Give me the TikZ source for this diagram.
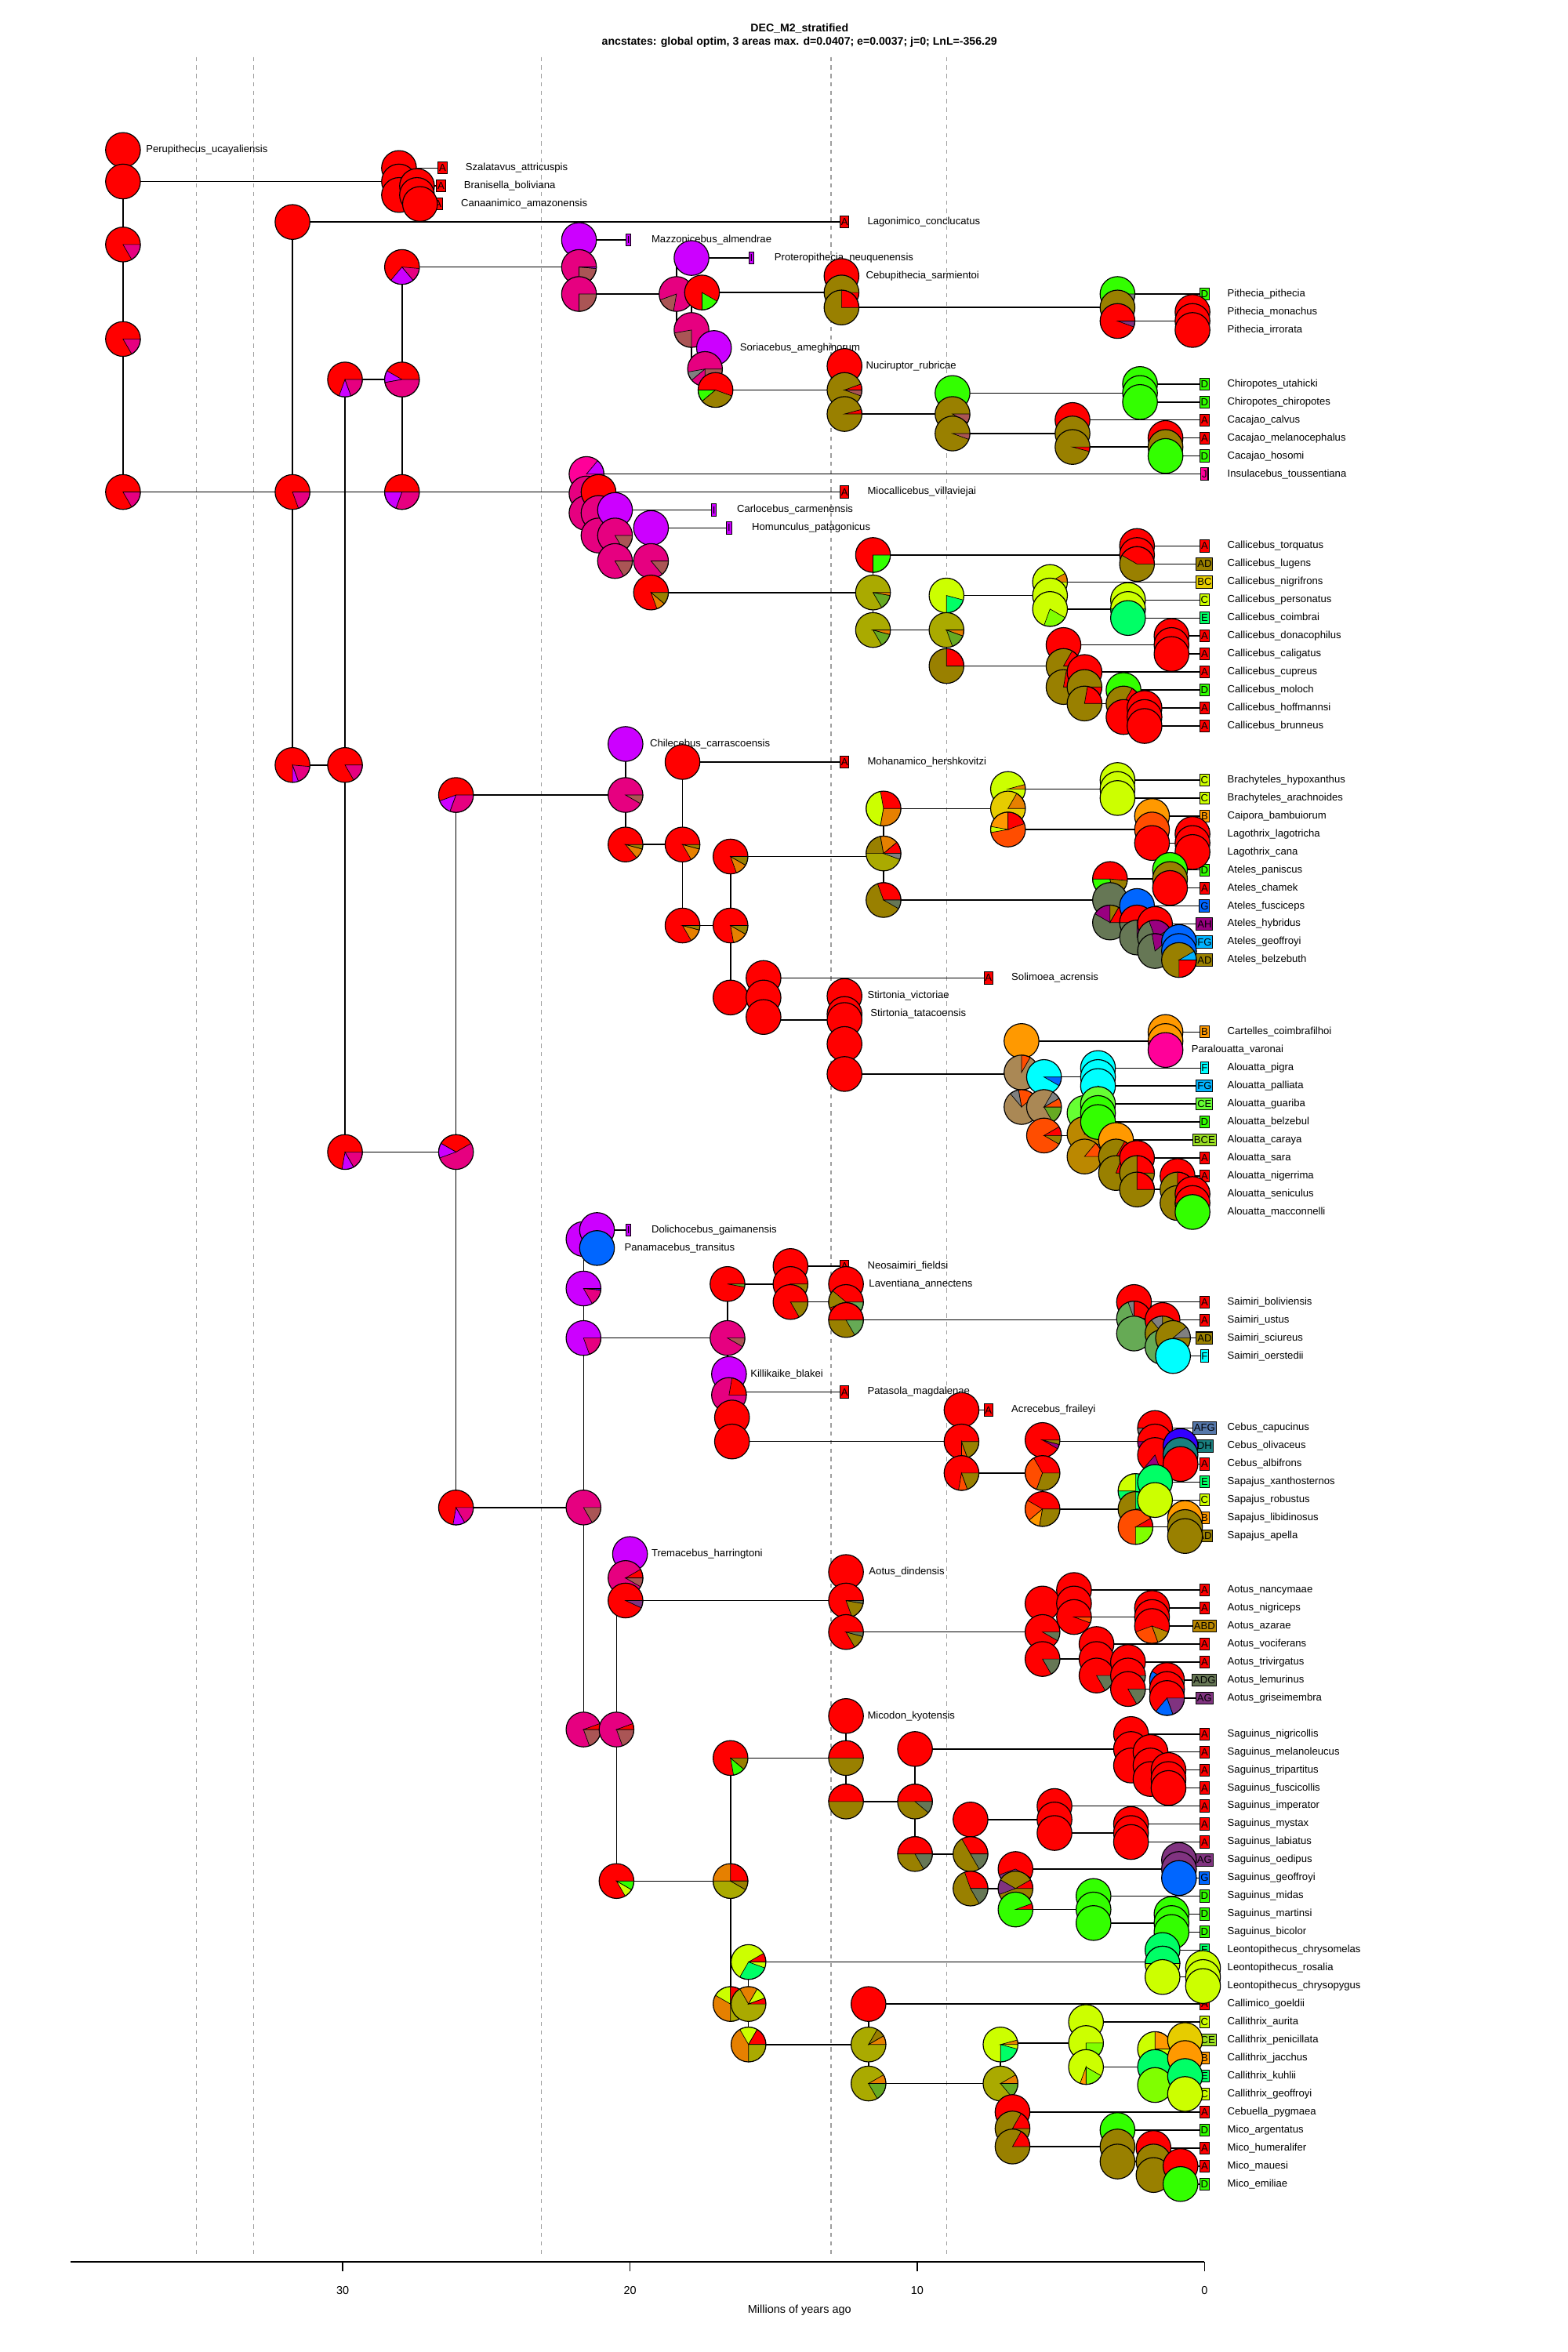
\documentclass[tikz,border=0pt]{standalone}
\usepackage{fontspec}
\setmainfont{Liberation Sans}
\usetikzlibrary{positioning}
% area colours
\definecolor{cA}{HTML}{FF0000}\definecolor{cB}{HTML}{FF9900}\definecolor{cC}{HTML}{CCFF00}
\definecolor{cD}{HTML}{33FF00}\definecolor{cE}{HTML}{00FF66}\definecolor{cF}{HTML}{00FFFF}
\definecolor{cG}{HTML}{0066FF}\definecolor{cH}{HTML}{3300FF}\definecolor{cI}{HTML}{CC00FF}
\definecolor{cJ}{HTML}{FF0099}
\definecolor{cAD}{HTML}{998000}\definecolor{cBC}{HTML}{E6CC00}\definecolor{cAB}{HTML}{FF4D00}
\definecolor{cAI}{HTML}{E60080}\definecolor{cAF}{HTML}{808080}\definecolor{cAG}{HTML}{803380}
\definecolor{cAH}{HTML}{990080}\definecolor{cFG}{HTML}{00B3FF}\definecolor{cCE}{HTML}{66FF33}
\definecolor{cBCE}{HTML}{99DD22}\definecolor{cABD}{HTML}{BB8800}\definecolor{cADG}{HTML}{667755}
\definecolor{cAFG}{HTML}{5577AA}\definecolor{cDH}{HTML}{198080}\definecolor{cAC}{HTML}{E68000}
\definecolor{cCD}{HTML}{80FF00}\definecolor{cACD}{HTML}{AAAA00}\definecolor{cADE}{HTML}{66AA22}
\definecolor{cADF}{HTML}{66AA55}\definecolor{cADI}{HTML}{AA5555}\definecolor{cABF}{HTML}{AA8855}
\definecolor{cAJ}{HTML}{FF004D}
\newcommand{\pr}{11.6}
\tikzset{
  br/.style={line width=0.45pt},
  piestyle/.style={draw=black, line width=0.35pt},
  wedge/.style={draw=black, line width=0.2pt},
  abox/.style={draw=black, line width=0.3pt, inner xsep=0.4pt, inner ysep=0pt, minimum height=0.16cm, font=\fontsize{3.9}{4}\selectfont},
  tlab/.style={anchor=west, inner sep=0pt, font=\fontsize{3.9}{4}\selectfont},
  axlab/.style={inner sep=0pt, font=\fontsize{4.3}{5}\selectfont},
  timeline/.style={gray!75, line width=0.4pt, dash pattern=on 1.6pt off 1.6pt}
}
\newcommand{\hb}[3]{\draw[br] (#2,-#1) -- (#3,-#1);}
\newcommand{\vb}[3]{\draw[br] (#1,-#2) -- (#1,-#3);}
\newcommand{\pie}[3]{\filldraw[piestyle, fill=#3] (#1,-#2) circle[radius=\pr];}
\newcommand{\piew}[4]{\fill[#3] (#1,-#2) circle[radius=\pr];
  \foreach \wc/\wa/\wb in {#4}{\filldraw[wedge, fill=\wc] (#1,-#2) -- ++(\wa:\pr) arc[start angle=\wa, end angle=\wb, radius=\pr] -- cycle;}
  \draw[piestyle] (#1,-#2) circle[radius=\pr];}
\newcounter{tipn}
\newcommand{\tip}[5]{\stepcounter{tipn}\node[abox, fill=#4] (box\thetipn) at (#1,-#2) {#3};
  \node[tlab] (lab\thetipn) at (#1+15,-#2) {#5};}
\newcommand{\flab}[3]{\stepcounter{tipn}\node[tlab] (lab\thetipn) at (#1,-#2) {#3};}

\begin{document}
\begin{tikzpicture}[x=0.02cm, y=0.02cm, line cap=butt]
  \useasboundingbox (0,0) rectangle (1045,-1568);
  \fill[white] (0,0) rectangle (1045,-1568);
  % title
  \node[font=\bfseries\fontsize{4.2}{5}\selectfont, inner sep=0pt] (title) at (533,-19) {DEC\_M2\_stratified};
  \node[font=\bfseries\fontsize{4.2}{5}\selectfont, inner sep=0pt] (subtitle) at (533,-28) {ancstates: global optim, 3 areas max. d=0.0407; e=0.0037; j=0; LnL=-356.29};
  % time slices
  \foreach \xs in {131,169,361,554,631} \draw[timeline] (\xs,-38) -- (\xs,-1505);
  % axis
  \draw[br] (47,-1508) -- (803,-1508);
  \foreach \t in {0,10,20,30} {
    \draw[br] ({803-19.15*\t},-1508) -- ({803-19.15*\t},-1514);
    \node[axlab] (tk\t) at ({803-19.15*\t},-1527) {\t};
  }
  \node[axlab] (xlabel) at (533,-1540) {Millions of years ago};

  % ---- branches: root and early splits
  \vb{82}{100}{328}
  \hb{121}{82}{266} \vb{266}{112}{130} \hb{112}{266}{295} \hb{130}{266}{278}
  \vb{278}{124}{136} \hb{124}{278}{294} \hb{136}{278}{292}
  \hb{328}{82}{195} \vb{195}{148}{510} \hb{148}{195}{563} \hb{510}{195}{230}
  \vb{230}{253}{768} \hb{253}{230}{268} \vb{268}{178}{329} \hb{328}{195}{391}
  % pitheciines
  \hb{178}{268}{386} \vb{386}{160}{196} \hb{160}{386}{419} \hb{196}{386}{451}
  \vb{451}{172}{220} \hb{172}{451}{501} \hb{220}{451}{461}
  \vb{461}{195}{246} \hb{195}{461}{561} \hb{246}{461}{472}
  \vb{472}{232}{260} \hb{232}{472}{478} \hb{260}{472}{563}
  \vb{561}{184}{205} \hb{205}{561}{745} \vb{745}{196}{214} \hb{196}{745}{803} \hb{214}{745}{795}
  \vb{795}{208}{220} \hb{208}{795}{803} \hb{220}{795}{803}
  \vb{563}{244}{276} \hb{276}{563}{635} \vb{635}{262}{289}
  \hb{262}{635}{760} \vb{760}{256}{268} \hb{256}{760}{803} \hb{268}{760}{803}
  \hb{289}{635}{715} \vb{715}{280}{298} \hb{280}{715}{803} \hb{298}{715}{777}
  \vb{777}{292}{304} \hb{292}{777}{803} \hb{304}{777}{803}
  % Homunculus group and Callicebus
  \vb{391}{316}{342} \hb{316}{391}{803} \hb{342}{391}{399}
  \vb{399}{328}{357} \hb{328}{399}{563} \hb{357}{399}{410}
  \vb{410}{340}{374} \hb{340}{410}{476} \hb{374}{410}{434}
  \vb{434}{352}{395} \hb{352}{434}{486} \hb{395}{434}{582}
  \vb{582}{370}{420} \hb{370}{582}{758} \vb{758}{364}{376} \hb{364}{758}{803} \hb{376}{758}{803}
  \hb{420}{582}{631} \vb{631}{397}{444} \hb{397}{631}{700} \vb{700}{388}{406}
  \hb{388}{700}{803} \hb{406}{700}{752} \vb{752}{400}{412} \hb{400}{752}{803} \hb{412}{752}{803}
  \hb{444}{631}{709} \vb{709}{430}{458} \hb{430}{709}{781} \vb{781}{424}{436}
  \hb{424}{781}{803} \hb{436}{781}{803}
  \hb{458}{709}{723} \vb{723}{448}{469} \hb{448}{723}{803} \hb{469}{723}{749}
  \vb{749}{460}{478} \hb{460}{749}{803} \hb{478}{749}{763}
  \vb{763}{472}{484} \hb{472}{763}{803} \hb{484}{763}{803}
  % atelids
  \hb{768}{230}{304} \vb{304}{530}{1005} \hb{530}{304}{417}
  \vb{417}{496}{563} \hb{496}{417}{420} \hb{563}{417}{455}
  \vb{455}{508}{617} \hb{508}{455}{563} \hb{617}{455}{487}
  \vb{487}{571}{665} \hb{571}{487}{589} \vb{589}{539}{600}
  \hb{539}{589}{672} \vb{672}{526}{553} \hb{526}{672}{745} \vb{745}{520}{532}
  \hb{520}{745}{803} \hb{532}{745}{803}
  \hb{553}{672}{768} \vb{768}{544}{562} \hb{544}{768}{803} \hb{562}{768}{795}
  \vb{795}{556}{568} \hb{556}{795}{803} \hb{568}{795}{803}
  \hb{600}{589}{740} \vb{740}{586}{615} \hb{586}{740}{780} \vb{780}{580}{592}
  \hb{580}{780}{803} \hb{592}{780}{803}
  \hb{615}{740}{758} \vb{758}{604}{625} \hb{604}{758}{803} \hb{625}{758}{770}
  \vb{770}{616}{634} \hb{616}{770}{803} \hb{634}{770}{786}
  \vb{786}{628}{640} \hb{628}{786}{803} \hb{640}{786}{803}
  \hb{665}{487}{509} \vb{509}{652}{680} \hb{652}{509}{659} \hb{680}{509}{563}
  \vb{563}{664}{716} \hb{716}{563}{681} \vb{681}{694}{738}
  \hb{694}{681}{777} \vb{777}{688}{700} \hb{688}{777}{803} \hb{700}{777}{780}
  \hb{738}{681}{696} \vb{696}{718}{757} \hb{718}{696}{732} \vb{732}{712}{724}
  \hb{712}{732}{803} \hb{724}{732}{803}
  \hb{757}{696}{723} \vb{723}{742}{771} \hb{742}{723}{732} \vb{732}{736}{748}
  \hb{736}{732}{803} \hb{748}{732}{803}
  \hb{771}{723}{744} \vb{744}{760}{782} \hb{760}{744}{803} \hb{782}{744}{758}
  \vb{758}{772}{793} \hb{772}{758}{803} \hb{793}{758}{785}
  \vb{785}{784}{802} \hb{784}{785}{803} \hb{802}{785}{795}
  \vb{795}{796}{808} \hb{796}{795}{803} \hb{808}{795}{803}
  % cebids
  \hb{1005}{304}{389} \vb{389}{826}{1153} \hb{826}{389}{398}
  \vb{398}{820}{832} \hb{820}{398}{419} \hb{832}{398}{402}
  \hb{892}{389}{485} \vb{485}{856}{929} \hb{856}{485}{527}
  \vb{527}{844}{868} \hb{844}{527}{563} \hb{868}{527}{564}
  \vb{564}{856}{880} \hb{880}{564}{756} \vb{756}{868}{889} \hb{868}{756}{803}
  \hb{889}{756}{775} \vb{775}{880}{898} \hb{880}{775}{803} \hb{898}{775}{782}
  \vb{782}{892}{904} \hb{892}{782}{803} \hb{904}{782}{803}
  \hb{929}{485}{487} \vb{487}{916}{961} \hb{928}{487}{563} \hb{961}{487}{641}
  \vb{641}{940}{982} \hb{940}{641}{659} \hb{982}{641}{695}
  \vb{695}{961}{1006} \hb{961}{695}{770} \vb{770}{952}{970}
  \hb{952}{770}{803} \hb{970}{770}{787} \vb{787}{964}{976} \hb{964}{787}{803} \hb{976}{787}{803}
  \hb{1006}{695}{757} \vb{757}{994}{1018} \hb{994}{757}{770} \vb{770}{988}{1000}
  \hb{988}{770}{803} \hb{1000}{770}{803}
  \hb{1018}{757}{790} \vb{790}{1012}{1024} \hb{1012}{790}{803} \hb{1024}{790}{803}
  % Aotus
  \hb{1153}{389}{411} \vb{411}{1052}{1254} \hb{1052}{411}{417}
  \vb{417}{1036}{1067} \hb{1036}{417}{420} \hb{1067}{417}{564}
  \vb{564}{1048}{1088} \hb{1088}{564}{695} \vb{695}{1069}{1106}
  \hb{1069}{695}{716} \vb{716}{1060}{1078} \hb{1060}{716}{803} \hb{1078}{716}{768}
  \vb{768}{1072}{1084} \hb{1072}{768}{803} \hb{1084}{768}{803}
  \hb{1106}{695}{731} \vb{731}{1096}{1117} \hb{1096}{731}{803} \hb{1117}{731}{752}
  \vb{752}{1108}{1126} \hb{1108}{752}{803} \hb{1126}{752}{778}
  \vb{778}{1120}{1132} \hb{1120}{778}{803} \hb{1132}{778}{803}
  % callitrichines
  \hb{1254}{411}{487} \vb{487}{1172}{1336} \hb{1172}{487}{564}
  \vb{564}{1144}{1201} \hb{1201}{564}{610} \vb{610}{1166}{1236}
  \hb{1166}{610}{754} \vb{754}{1156}{1177} \hb{1156}{754}{803} \hb{1177}{754}{767}
  \vb{767}{1168}{1186} \hb{1168}{767}{803} \hb{1186}{767}{779}
  \vb{779}{1180}{1192} \hb{1180}{779}{803} \hb{1192}{779}{803}
  \hb{1236}{610}{647} \vb{647}{1213}{1259} \hb{1213}{647}{703}
  \vb{703}{1204}{1222} \hb{1204}{703}{803} \hb{1222}{703}{754}
  \vb{754}{1216}{1228} \hb{1216}{754}{803} \hb{1228}{754}{803}
  \hb{1259}{647}{677} \vb{677}{1246}{1273} \hb{1246}{677}{786}
  \vb{786}{1240}{1252} \hb{1240}{786}{803} \hb{1252}{786}{803}
  \hb{1273}{677}{729} \vb{729}{1264}{1282} \hb{1264}{729}{803} \hb{1282}{729}{781}
  \vb{781}{1276}{1288} \hb{1276}{781}{803} \hb{1288}{781}{803}
  \hb{1336}{487}{499} \vb{499}{1308}{1363} \hb{1308}{499}{775}
  \vb{775}{1300}{1318} \hb{1300}{775}{803} \hb{1318}{775}{802}
  \hb{1363}{499}{579} \vb{579}{1336}{1389} \hb{1336}{579}{803} \hb{1389}{579}{667}
  \vb{667}{1362}{1419} \hb{1362}{667}{724} \vb{724}{1348}{1378} \hb{1348}{724}{803}
  \hb{1378}{724}{770} \vb{770}{1366}{1390} \hb{1366}{770}{790} \vb{790}{1360}{1372}
  \hb{1360}{790}{803} \hb{1372}{790}{803}
  \hb{1390}{770}{790} \vb{790}{1384}{1396} \hb{1384}{790}{803} \hb{1396}{790}{803}
  \hb{1419}{667}{675} \vb{675}{1408}{1431} \hb{1408}{675}{803} \hb{1431}{675}{745}
  \vb{745}{1420}{1441} \hb{1420}{745}{803} \hb{1441}{745}{769}
  \vb{769}{1432}{1450} \hb{1432}{769}{803} \hb{1450}{769}{787}
  \vb{787}{1444}{1456} \hb{1444}{787}{803} \hb{1456}{787}{803}

  % ---- fossil tips
  \flab{97}{100}{Perupithecus\_ucayaliensis}
  \tip{295}{112}{A}{cA}{Szalatavus\_attricuspis}
  \tip{294}{124}{A}{cA}{Branisella\_boliviana}
  \tip{292}{136}{A}{cA}{Canaanimico\_amazonensis}
  \tip{563}{148}{A}{cA}{Lagonimico\_conclucatus}
  \tip{419}{160}{I}{cI}{Mazzonicebus\_almendrae}
  \tip{501}{172}{I}{cI}{Proteropithecia\_neuquenensis}
  \flab{577}{184}{Cebupithecia\_sarmientoi}
  \flab{493}{232}{Soriacebus\_ameghinorum}
  \flab{577}{244}{Nuciruptor\_rubricae}
  \tip{563}{328}{A}{cA}{Miocallicebus\_villaviejai}
  \tip{476}{340}{I}{cI}{Carlocebus\_carmenensis}
  \tip{486}{352}{I}{cI}{Homunculus\_patagonicus}
  \flab{433}{496}{Chilecebus\_carrascoensis}
  \tip{563}{508}{A}{cA}{Mohanamico\_hershkovitzi}
  \tip{659}{652}{A}{cA}{Solimoea\_acrensis}
  \flab{578}{664}{Stirtonia\_victoriae}
  \flab{580}{676}{Stirtonia\_tatacoensis}
  \flab{794}{700}{Paralouatta\_varonai}
  \tip{419}{820}{I}{cI}{Dolichocebus\_gaimanensis}
  \flab{416}{832}{Panamacebus\_transitus}
  \tip{563}{844}{A}{cA}{Neosaimiri\_fieldsi}
  \flab{579}{856}{Laventiana\_annectens}
  \flab{500}{916}{Killikaike\_blakei}
  \tip{563}{928}{A}{cA}{Patasola\_magdalenae}
  \tip{659}{940}{A}{cA}{Acrecebus\_fraileyi}
  \flab{434}{1036}{Tremacebus\_harringtoni}
  \flab{579}{1048}{Aotus\_dindensis}
  \flab{578}{1144}{Micodon\_kyotensis}
  % ---- living tips
  \tip{803}{196}{D}{cD}{Pithecia\_pithecia}
  \tip{803}{208}{A}{cA}{Pithecia\_monachus}
  \tip{803}{220}{A}{cA}{Pithecia\_irrorata}
  \tip{803}{256}{D}{cD}{Chiropotes\_utahicki}
  \tip{803}{268}{D}{cD}{Chiropotes\_chiropotes}
  \tip{803}{280}{A}{cA}{Cacajao\_calvus}
  \tip{803}{292}{A}{cA}{Cacajao\_melanocephalus}
  \tip{803}{304}{D}{cD}{Cacajao\_hosomi}
  \tip{803}{316}{J}{cJ}{Insulacebus\_toussentiana}
  \tip{803}{364}{A}{cA}{Callicebus\_torquatus}
  \tip{803}{376}{AD}{cAD}{Callicebus\_lugens}
  \tip{803}{388}{BC}{cBC}{Callicebus\_nigrifrons}
  \tip{803}{400}{C}{cC}{Callicebus\_personatus}
  \tip{803}{412}{E}{cE}{Callicebus\_coimbrai}
  \tip{803}{424}{A}{cA}{Callicebus\_donacophilus}
  \tip{803}{436}{A}{cA}{Callicebus\_caligatus}
  \tip{803}{448}{A}{cA}{Callicebus\_cupreus}
  \tip{803}{460}{D}{cD}{Callicebus\_moloch}
  \tip{803}{472}{A}{cA}{Callicebus\_hoffmannsi}
  \tip{803}{484}{A}{cA}{Callicebus\_brunneus}
  \tip{803}{520}{C}{cC}{Brachyteles\_hypoxanthus}
  \tip{803}{532}{C}{cC}{Brachyteles\_arachnoides}
  \tip{803}{544}{B}{cB}{Caipora\_bambuiorum}
  \tip{803}{556}{A}{cA}{Lagothrix\_lagotricha}
  \tip{803}{568}{A}{cA}{Lagothrix\_cana}
  \tip{803}{580}{D}{cD}{Ateles\_paniscus}
  \tip{803}{592}{A}{cA}{Ateles\_chamek}
  \tip{803}{604}{G}{cG}{Ateles\_fusciceps}
  \tip{803}{616}{AH}{cAH}{Ateles\_hybridus}
  \tip{803}{628}{FG}{cFG}{Ateles\_geoffroyi}
  \tip{803}{640}{AD}{cAD}{Ateles\_belzebuth}
  \tip{803}{688}{B}{cB}{Cartelles\_coimbrafilhoi}
  \tip{803}{712}{F}{cF}{Alouatta\_pigra}
  \tip{803}{724}{FG}{cFG}{Alouatta\_palliata}
  \tip{803}{736}{CE}{cCE}{Alouatta\_guariba}
  \tip{803}{748}{D}{cD}{Alouatta\_belzebul}
  \tip{803}{760}{BCE}{cBCE}{Alouatta\_caraya}
  \tip{803}{772}{A}{cA}{Alouatta\_sara}
  \tip{803}{784}{A}{cA}{Alouatta\_nigerrima}
  \tip{803}{796}{A}{cA}{Alouatta\_seniculus}
  \tip{803}{808}{D}{cD}{Alouatta\_macconnelli}
  \tip{803}{868}{A}{cA}{Saimiri\_boliviensis}
  \tip{803}{880}{A}{cA}{Saimiri\_ustus}
  \tip{803}{892}{AD}{cAD}{Saimiri\_sciureus}
  \tip{803}{904}{F}{cF}{Saimiri\_oerstedii}
  \tip{803}{952}{AFG}{cAFG}{Cebus\_capucinus}
  \tip{803}{964}{DH}{cDH}{Cebus\_olivaceus}
  \tip{803}{976}{A}{cA}{Cebus\_albifrons}
  \tip{803}{988}{E}{cE}{Sapajus\_xanthosternos}
  \tip{803}{1000}{C}{cC}{Sapajus\_robustus}
  \tip{803}{1012}{B}{cB}{Sapajus\_libidinosus}
  \tip{803}{1024}{AD}{cAD}{Sapajus\_apella}
  \tip{803}{1060}{A}{cA}{Aotus\_nancymaae}
  \tip{803}{1072}{A}{cA}{Aotus\_nigriceps}
  \tip{803}{1084}{ABD}{cABD}{Aotus\_azarae}
  \tip{803}{1096}{A}{cA}{Aotus\_vociferans}
  \tip{803}{1108}{A}{cA}{Aotus\_trivirgatus}
  \tip{803}{1120}{ADG}{cADG}{Aotus\_lemurinus}
  \tip{803}{1132}{AG}{cAG}{Aotus\_griseimembra}
  \tip{803}{1156}{A}{cA}{Saguinus\_nigricollis}
  \tip{803}{1168}{A}{cA}{Saguinus\_melanoleucus}
  \tip{803}{1180}{A}{cA}{Saguinus\_tripartitus}
  \tip{803}{1192}{A}{cA}{Saguinus\_fuscicollis}
  \tip{803}{1204}{A}{cA}{Saguinus\_imperator}
  \tip{803}{1216}{A}{cA}{Saguinus\_mystax}
  \tip{803}{1228}{A}{cA}{Saguinus\_labiatus}
  \tip{803}{1240}{AG}{cAG}{Saguinus\_oedipus}
  \tip{803}{1252}{G}{cG}{Saguinus\_geoffroyi}
  \tip{803}{1264}{D}{cD}{Saguinus\_midas}
  \tip{803}{1276}{D}{cD}{Saguinus\_martinsi}
  \tip{803}{1288}{D}{cD}{Saguinus\_bicolor}
  \tip{803}{1300}{E}{cE}{Leontopithecus\_chrysomelas}
  \tip{803}{1312}{C}{cC}{Leontopithecus\_rosalia}
  \tip{803}{1324}{C}{cC}{Leontopithecus\_chrysopygus}
  \tip{803}{1336}{A}{cA}{Callimico\_goeldii}
  \tip{803}{1348}{C}{cC}{Callithrix\_aurita}
  \tip{803}{1360}{BCE}{cBCE}{Callithrix\_penicillata}
  \tip{803}{1372}{B}{cB}{Callithrix\_jacchus}
  \tip{803}{1384}{E}{cE}{Callithrix\_kuhlii}
  \tip{803}{1396}{C}{cC}{Callithrix\_geoffroyi}
  \tip{803}{1408}{A}{cA}{Cebuella\_pygmaea}
  \tip{803}{1420}{D}{cD}{Mico\_argentatus}
  \tip{803}{1432}{A}{cA}{Mico\_humeralifer}
  \tip{803}{1444}{A}{cA}{Mico\_mauesi}
  \tip{803}{1456}{D}{cD}{Mico\_emiliae}

  % ---- ancestral range pies: root
  \pie{82}{100}{cA} \pie{82}{121}{cA}
  \piew{82}{163}{cA}{cAI/300/360} \piew{82}{226}{cA}{cAI/300/360} \piew{82}{328}{cA}{cAI/300/360}
  \pie{266}{112}{cA} \pie{266}{121}{cA} \pie{266}{130}{cA} \pie{278}{124}{cA} \pie{278}{130}{cA} \pie{280}{136}{cA}
  \pie{195}{148}{cA} \piew{195}{328}{cA}{cAI/290/360} \piew{195}{510}{cA}{cI/270/290,cAI/290/355}
  \piew{230}{253}{cA}{cI/250/290,cAI/290/360} \piew{230}{510}{cA}{cAI/300/360} \piew{230}{768}{cA}{cI/260/300,cAI/300/360}
  \piew{268}{178}{cA}{cI/230/310,cAI/310/355} \piew{268}{253}{cA}{cI/150/190,cAI/190/360}
  \piew{268}{328}{cA}{cI/180/250,cAI/250/360}
  % pitheciines
  \pie{386}{160}{cI} \piew{386}{178}{cAI}{cADI/270/355,cI/355/360} \piew{386}{196}{cAI}{cADI/270/360}
  \pie{461}{172}{cI} \piew{451}{196}{cAI}{cADI/200/260} \piew{461}{220}{cAI}{cADI/190/270}
  \piew{468}{195}{cA}{cD/270/330} \pie{476}{232}{cI}
  \piew{470}{246}{cAI}{cAF/190/220,cADI/270/360} \piew{477}{260}{cA}{cD/180/220,cAD/220/340}
  \pie{561}{184}{cA} \piew{561}{195}{cAD}{cA/330/360} \piew{561}{205}{cAD}{cA/0/90}
  \piew{745}{196}{cD}{cAF/320/360} \pie{745}{205}{cAD} \piew{745}{214}{cA}{cAG/340/360}
  \pie{795}{208}{cA} \pie{795}{214}{cA} \pie{795}{220}{cA}
  \pie{563}{244}{cA} \piew{563}{260}{cAD}{cA/0/20,cADI/340/360} \piew{563}{276}{cAD}{cA/0/15}
  \pie{635}{262}{cD} \piew{635}{276}{cAD}{cADI/330/360} \piew{635}{289}{cAD}{cADI/340/360}
  \pie{760}{256}{cD} \pie{760}{262}{cD} \pie{760}{268}{cD}
  \pie{715}{280}{cA} \pie{715}{289}{cAD} \piew{715}{298}{cAD}{cA/345/360}
  \pie{777}{292}{cA} \pie{777}{298}{cAD} \pie{777}{304}{cD}
  % Homunculus group
  \piew{391}{316}{cJ}{cI/0/50} \pie{391}{329}{cAI} \pie{391}{342}{cAI}
  \pie{399}{328}{cA} \piew{399}{342}{cAI}{cADI/330/360} \piew{399}{357}{cAI}{cADI/330/360}
  \pie{410}{340}{cI} \piew{410}{357}{cAI}{cADI/300/360} \piew{410}{374}{cAI}{cADI/300/360}
  \pie{434}{352}{cI} \piew{434}{374}{cAI}{cADI/310/360} \piew{434}{395}{cA}{cAC/290/320,cAD/320/360}
  % Callicebus
  \piew{582}{370}{cA}{cD/270/360} \piew{582}{395}{cACD}{cADE/300/350,cAC/350/360}
  \piew{582}{420}{cACD}{cADE/300/345,cAC/345/360}
  \pie{758}{364}{cA} \piew{758}{370}{cA}{cAD/200/270} \piew{758}{376}{cAD}{cA/0/150}
  \piew{631}{397}{cC}{cE/270/345} \piew{631}{420}{cACD}{cADE/290/340,cAC/340/360} \piew{631}{444}{cAD}{cA/0/90}
  \piew{700}{388}{cC}{cAC/0/30} \pie{700}{397}{cC} \piew{700}{406}{cC}{cCD/250/330}
  \pie{752}{400}{cC} \piew{752}{406}{cC}{cE/180/360} \pie{752}{412}{cE}
  \pie{709}{430}{cA} \piew{709}{444}{cAD}{cA/0/60} \piew{709}{458}{cAD}{cA/0/80}
  \pie{781}{424}{cA} \pie{781}{430}{cA} \pie{781}{436}{cA}
  \pie{723}{448}{cA} \piew{723}{458}{cAD}{cA/290/360} \piew{723}{469}{cAD}{cA/0/80}
  \pie{749}{460}{cD} \piew{749}{469}{cAD}{cA/0/60} \pie{749}{478}{cA}
  \pie{763}{472}{cA} \pie{763}{478}{cA} \pie{763}{484}{cA}
  % atelids
  \piew{304}{530}{cA}{cI/200/250,cAI/250/360} \piew{304}{768}{cAI}{cA/30/150,cI/150/200}
  \piew{304}{1005}{cA}{cI/260/300,cAI/300/360}
  \pie{417}{496}{cI} \piew{417}{530}{cAI}{cADI/330/360} \piew{417}{563}{cA}{cAC/310/345,cAD/345/360}
  \pie{455}{508}{cA} \piew{455}{563}{cA}{cAC/300/345,cAD/345/360} \piew{455}{617}{cA}{cAC/300/345,cAD/345/360}
  \piew{487}{571}{cA}{cAC/290/330,cAD/330/360} \piew{487}{617}{cA}{cAC/280/330,cAD/330/360} \pie{487}{665}{cA}
  \piew{589}{539}{cA}{cC/100/260,cAC/260/360}
  \piew{589}{569}{cACD}{cAD/100/180,cAC/40/100,cA/0/40,cAF/340/360}
  \piew{589}{600}{cAD}{cA/0/110,cADG/330/360}
  \piew{672}{526}{cC}{cAC/0/15} \piew{672}{539}{cBC}{cAC/0/60} \piew{672}{553}{cAB}{cB/90/180,cA/20/90,cC/170/190}
  \pie{745}{520}{cC} \pie{745}{526}{cC} \pie{745}{532}{cC}
  \pie{768}{544}{cB} \pie{768}{553}{cAB} \pie{768}{562}{cA}
  \pie{795}{556}{cA} \pie{795}{562}{cA} \pie{795}{568}{cA}
  \piew{740}{586}{cA}{cD/180/280,cAD/280/355} \pie{740}{600}{cADG}
  \piew{740}{615}{cADG}{cAH/90/150,cAD/60/90,cA/0/60}
  \pie{780}{580}{cD} \pie{780}{586}{cAD} \pie{780}{592}{cA}
  \pie{758}{604}{cG} \piew{758}{615}{cA}{cADG/180/360} \piew{758}{625}{cADG}{cAH/20/90}
  \pie{770}{616}{cA} \piew{770}{625}{cADG}{cAH/30/110} \piew{770}{634}{cADG}{cAH/40/100}
  \pie{786}{628}{cG} \piew{786}{634}{cG}{cFG/300/360} \piew{786}{640}{cAD}{cA/270/360,cFG/0/30}
  \pie{509}{652}{cA} \pie{509}{665}{cA} \pie{509}{678}{cA}
  \pie{563}{664}{cA} \pie{563}{676}{cA} \pie{563}{680}{cA} \pie{563}{696}{cA} \pie{563}{716}{cA}
  \pie{681}{694}{cB} \piew{681}{715}{cABF}{cAB/60/90} \piew{681}{738}{cABF}{cAB/40/100,cAF/100/130}
  \pie{777}{688}{cB} \piew{777}{694}{cB}{cAJ/180/200} \pie{777}{700}{cJ}
  \piew{696}{718}{cF}{cG/330/360} \piew{696}{738}{cABF}{cADE/300/360,cAB/0/30,cAF/30/60}
  \piew{696}{757}{cAB}{cA/0/30,cAD/330/360}
  \pie{732}{712}{cF} \pie{732}{718}{cF} \piew{732}{724}{cF}{cFG/270/330}
  \pie{723}{742}{cCE} \piew{723}{756}{cABD}{cAB/0/40} \piew{723}{771}{cABD}{cAB/0/50}
  \pie{732}{736}{cCE} \pie{732}{742}{cD} \pie{732}{748}{cD}
  \pie{744}{760}{cB} \piew{744}{771}{cAD}{cA/0/60} \piew{744}{782}{cAD}{cA/0/70}
  \pie{758}{772}{cA} \piew{758}{782}{cAD}{cA/0/90} \piew{758}{793}{cAD}{cA/0/90}
  \pie{785}{784}{cA} \piew{785}{793}{cAD}{cA/0/90} \piew{785}{802}{cAD}{cA/0/90}
  \pie{795}{796}{cA} \piew{795}{802}{cA}{cAD/180/270} \pie{795}{808}{cD}
  % cebids
  \pie{389}{826}{cI} \pie{398}{820}{cI} \pie{398}{832}{cG}
  \piew{389}{859}{cI}{cAI/300/355,cH/355/360} \piew{389}{892}{cI}{cAI/290/360}
  \piew{389}{1005}{cAI}{cADI/300/360}
  \piew{485}{856}{cA}{cADE/350/360} \piew{485}{892}{cAI}{cADI/330/360}
  \pie{486}{916}{cI} \piew{486}{930}{cAI}{cA/0/80} \pie{488}{945}{cA} \pie{488}{961}{cA}
  \pie{527}{844}{cA} \piew{527}{856}{cA}{cAD/330/360} \piew{527}{868}{cA}{cAD/300/360}
  \pie{564}{856}{cA} \piew{564}{868}{cA}{cAD/140/200,cADF/330/360}
  \piew{564}{880}{cAD}{cA/0/180,cADF/300/360}
  \pie{756}{868}{cA} \piew{756}{879}{cADF}{cA/0/90,cAF/90/110} \pie{756}{889}{cADF}
  \pie{775}{880}{cA} \piew{775}{889}{cAD}{cAF/90/130} \pie{775}{898}{cADF}
  \piew{782}{892}{cAD}{cAF/0/40} \pie{782}{904}{cF}
  \pie{641}{940}{cA} \piew{641}{961}{cA}{cAB/270/290,cAD/290/360} \piew{641}{982}{cA}{cAB/260/290,cAD/290/360}
  \piew{695}{960}{cA}{cAH/330/345,cAD/345/360} \piew{695}{982}{cA}{cAB/120/250,cAD/250/360}
  \piew{695}{1006}{cA}{cAB/150/220,cB/220/260,cAD/260/360}
  \piew{770}{952}{cA}{cAF/180/220,cAH/220/260} \piew{770}{961}{cA}{cAH/180/270,cG/270/300}
  \piew{770}{970}{cA}{cAH/230/290}
  \pie{787}{964}{cH} \pie{787}{970}{cDH} \pie{787}{976}{cA}
  \piew{757}{994}{cE}{cC/90/180} \piew{757}{1006}{cAD}{cE/0/90} \piew{757}{1018}{cAB}{cA/0/30,cCD/270/360}
  \pie{770}{988}{cE} \pie{770}{1000}{cC}
  \pie{790}{1012}{cB} \pie{790}{1018}{cAD} \pie{790}{1024}{cAD}
  % Aotus
  \piew{389}{1153}{cAI}{cADI/290/360,cA/0/20} \piew{411}{1153}{cAI}{cADI/290/360,cA/0/20}
  \pie{420}{1036}{cI} \piew{417}{1052}{cAI}{cA/0/30,cADI/330/360} \piew{417}{1067}{cA}{cAG/335/360}
  \pie{564}{1048}{cA} \piew{564}{1067}{cA}{cAD/290/350,cADG/350/360} \piew{564}{1088}{cA}{cAD/300/345,cADG/345/360}
  \pie{695}{1069}{cA} \piew{695}{1088}{cA}{cADG/330/360} \piew{695}{1106}{cA}{cADG/300/360}
  \pie{716}{1060}{cA} \pie{716}{1069}{cA} \piew{716}{1078}{cA}{cAB/340/360}
  \pie{768}{1072}{cA} \piew{768}{1078}{cA}{cAB/200/280} \piew{768}{1084}{cA}{cAB/200/290,cABD/290/340}
  \pie{731}{1096}{cA} \pie{731}{1106}{cA} \piew{731}{1117}{cA}{cADG/300/360}
  \pie{752}{1108}{cA} \piew{752}{1117}{cA}{cADG/300/360} \piew{752}{1126}{cA}{cADG/300/360}
  \piew{778}{1120}{cA}{cG/150/200,cADG/330/360} \piew{778}{1126}{cA}{cAG/300/360}
  \piew{778}{1132}{cA}{cG/230/290,cAG/290/360}
  % callitrichines
  \piew{411}{1254}{cA}{cC/300/330,cD/330/360}
  \piew{487}{1172}{cA}{cD/280/320,cAD/320/360}
  \piew{487}{1254}{cAC}{cA/0/90,cACD/180/330,cAD/330/360}
  \piew{499}{1308}{cC}{cE/240/340,cA/0/30}
  \piew{487}{1336}{cAC}{cC/90/150,cA/30/90,cACD/270/360}
  \piew{499}{1336}{cACD}{cAC/60/120,cC/20/60,cA/0/20}
  \piew{499}{1363}{cAC}{cC/60/120,cA/0/60,cACD/270/360}
  \pie{564}{1144}{cA} \piew{564}{1172}{cAD}{cA/0/180} \piew{564}{1201}{cAD}{cA/0/180}
  \pie{610}{1166}{cA} \piew{610}{1201}{cAD}{cA/0/180,cADG/320/360} \piew{610}{1236}{cAD}{cA/0/180,cADG/300/360}
  \pie{754}{1156}{cA} \pie{754}{1166}{cA} \pie{754}{1177}{cA}
  \pie{767}{1168}{cA} \pie{767}{1177}{cA} \pie{767}{1186}{cA}
  \pie{779}{1180}{cA} \pie{779}{1186}{cA} \pie{779}{1192}{cA}
  \pie{647}{1213}{cA} \piew{647}{1236}{cAD}{cA/0/120,cADG/300/360} \piew{647}{1259}{cAD}{cA/0/110,cADG/300/360}
  \pie{703}{1204}{cA} \pie{703}{1213}{cA} \pie{703}{1222}{cA}
  \pie{754}{1216}{cA} \pie{754}{1222}{cA} \pie{754}{1228}{cA}
  \piew{677}{1246}{cA}{cAG/200/330} \piew{677}{1259}{cAD}{cAG/150/200,cA/0/30} \piew{677}{1273}{cD}{cA/0/20}
  \pie{786}{1240}{cAG} \pie{786}{1246}{cAG} \pie{786}{1252}{cG}
  \pie{729}{1264}{cD} \pie{729}{1273}{cD} \pie{729}{1282}{cD}
  \pie{781}{1276}{cD} \pie{781}{1282}{cD} \pie{781}{1288}{cD}
  \pie{775}{1300}{cE} \piew{775}{1309}{cC}{cE/0/180} \pie{775}{1318}{cC}
  \pie{802}{1312}{cC} \pie{802}{1318}{cC} \pie{802}{1324}{cC}
  \pie{579}{1336}{cA} \piew{579}{1363}{cACD}{cAC/0/30,cAD/30/60} \piew{579}{1389}{cACD}{cAC/0/30,cADE/300/360}
  \piew{667}{1363}{cC}{cE/270/345,cAC/0/15} \piew{667}{1389}{cACD}{cAC/0/30,cADE/310/360}
  \pie{675}{1408}{cA} \piew{675}{1419}{cAD}{cA/0/60} \piew{675}{1431}{cAD}{cA/0/60}
  \pie{724}{1348}{cC} \piew{724}{1362}{cC}{cCD/270/360} \piew{724}{1378}{cC}{cCD/270/330,cB/250/270}
  \piew{770}{1366}{cC}{cB/0/90} \pie{770}{1378}{cE} \pie{770}{1390}{cCD}
  \pie{790}{1360}{cBC} \pie{790}{1372}{cB} \pie{790}{1384}{cE} \pie{790}{1396}{cC}
  \pie{745}{1420}{cD} \pie{745}{1431}{cAD} \pie{745}{1441}{cAD}
  \pie{769}{1432}{cA} \pie{769}{1441}{cAD} \pie{769}{1450}{cAD}
  \pie{787}{1444}{cA} \pie{787}{1456}{cD}
\end{tikzpicture}
\end{document}
